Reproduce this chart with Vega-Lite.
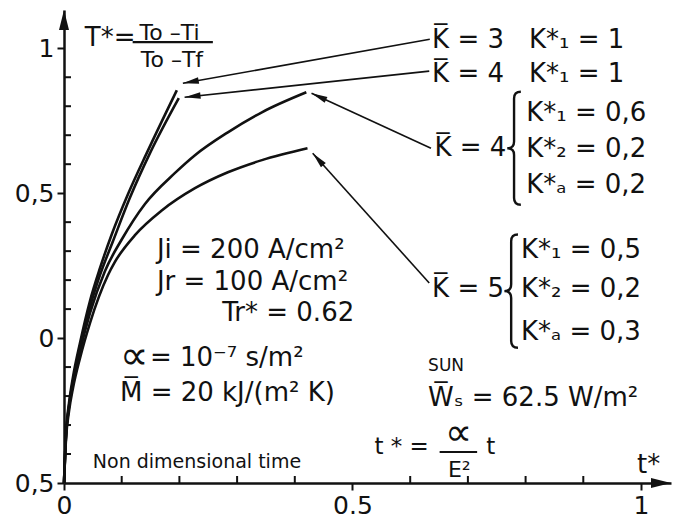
{
  "$schema": "https://vega.github.io/schema/vega-lite/v6.json",
  "width": 607,
  "height": 473,
  "autosize": {"type": "none"},
  "padding": {"left": 64, "top": 10, "right": 10, "bottom": 44},
  "background": "white",
  "config": {
    "view": {"stroke": null},
    "font": "DejaVu Sans",
    "text": {"font": "DejaVu Sans", "color": "#111"}
  },
  "resolve": {"axis": {"x": "independent", "y": "independent"}},
  "layer": [
    {
      "data": {
        "values": [
          {"curve": "K3", "t": 0, "T": -0.5},
          {"curve": "K3", "t": 0.0035, "T": -0.328},
          {"curve": "K3", "t": 0.0087, "T": -0.224},
          {"curve": "K3", "t": 0.0156, "T": -0.134},
          {"curve": "K3", "t": 0.0277, "T": -0.017},
          {"curve": "K3", "t": 0.045, "T": 0.128},
          {"curve": "K3", "t": 0.0623, "T": 0.241},
          {"curve": "K3", "t": 0.083, "T": 0.359},
          {"curve": "K3", "t": 0.111, "T": 0.497},
          {"curve": "K3", "t": 0.145, "T": 0.645},
          {"curve": "K3", "t": 0.1955, "T": 0.855},
          {"curve": "K4a", "t": 0, "T": -0.5},
          {"curve": "K4a", "t": 0.0035, "T": -0.338},
          {"curve": "K4a", "t": 0.0087, "T": -0.234},
          {"curve": "K4a", "t": 0.0156, "T": -0.148},
          {"curve": "K4a", "t": 0.0277, "T": -0.034},
          {"curve": "K4a", "t": 0.045, "T": 0.107},
          {"curve": "K4a", "t": 0.0623, "T": 0.217},
          {"curve": "K4a", "t": 0.0848, "T": 0.334},
          {"curve": "K4a", "t": 0.114, "T": 0.483},
          {"curve": "K4a", "t": 0.149, "T": 0.638},
          {"curve": "K4a", "t": 0.199, "T": 0.828},
          {"curve": "K4b", "t": 0, "T": -0.5},
          {"curve": "K4b", "t": 0.0035, "T": -0.338},
          {"curve": "K4b", "t": 0.0087, "T": -0.238},
          {"curve": "K4b", "t": 0.0156, "T": -0.155},
          {"curve": "K4b", "t": 0.0277, "T": -0.045},
          {"curve": "K4b", "t": 0.045, "T": 0.086},
          {"curve": "K4b", "t": 0.0709, "T": 0.231},
          {"curve": "K4b", "t": 0.1003, "T": 0.341},
          {"curve": "K4b", "t": 0.14, "T": 0.462},
          {"curve": "K4b", "t": 0.192, "T": 0.569},
          {"curve": "K4b", "t": 0.227, "T": 0.631},
          {"curve": "K4b", "t": 0.284, "T": 0.71},
          {"curve": "K4b", "t": 0.343, "T": 0.779},
          {"curve": "K4b", "t": 0.42, "T": 0.848},
          {"curve": "K5", "t": 0, "T": -0.5},
          {"curve": "K5", "t": 0.0035, "T": -0.348},
          {"curve": "K5", "t": 0.0087, "T": -0.252},
          {"curve": "K5", "t": 0.0156, "T": -0.172},
          {"curve": "K5", "t": 0.0277, "T": -0.069},
          {"curve": "K5", "t": 0.045, "T": 0.052},
          {"curve": "K5", "t": 0.0761, "T": 0.217},
          {"curve": "K5", "t": 0.088, "T": 0.262},
          {"curve": "K5", "t": 0.123, "T": 0.355},
          {"curve": "K5", "t": 0.17, "T": 0.441},
          {"curve": "K5", "t": 0.227, "T": 0.517},
          {"curve": "K5", "t": 0.284, "T": 0.572},
          {"curve": "K5", "t": 0.343, "T": 0.614},
          {"curve": "K5", "t": 0.422, "T": 0.655}
        ]
      },
      "mark": {"type": "line", "interpolate": "monotone", "color": "#111", "strokeWidth": 2.6},
      "encoding": {
        "x": {
          "field": "t", "type": "quantitative",
          "scale": {"domain": [0, 1.052], "nice": false, "zero": false},
          "axis": {
            "orient": "bottom", "title": null, "grid": false,
            "values": [0, 0.5, 1],
            "labelExpr": "datum.value == 0 ? '0' : datum.value == 0.5 ? '0.5' : '1'",
            "tickSize": 7, "tickWidth": 2, "tickColor": "#111",
            "domain": true, "domainColor": "#111", "domainWidth": 2.5,
            "labelFont": "DejaVu Sans", "labelFontSize": 25, "labelColor": "#111",
            "labelPadding": 3, "labelFlush": false, "labelOverlap": false, "labelBound": false
          }
        },
        "y": {
          "field": "T", "type": "quantitative",
          "scale": {"domain": [-0.5, 1.132], "nice": false, "zero": false},
          "axis": {
            "orient": "left", "title": null, "grid": false,
            "values": [-0.5, 0, 0.5, 1],
            "labelExpr": "datum.value == 1 ? '1' : datum.value == 0 ? '0' : '0,5'",
            "tickSize": 7, "tickWidth": 2, "tickColor": "#111",
            "domain": true, "domainColor": "#111", "domainWidth": 2.5,
            "labelFont": "DejaVu Sans", "labelFontSize": 25, "labelColor": "#111",
            "labelPadding": 3, "labelOverlap": false, "labelBound": false, "labelFlush": false
          }
        },
        "detail": {"field": "curve"}
      }
    },
    {
      "data": {
        "values": [
          {"t": 0.1}, {"t": 0.2}, {"t": 0.3}, {"t": 0.4},
          {"t": 0.6}, {"t": 0.7}, {"t": 0.8}, {"t": 0.9}
        ]
      },
      "mark": {"type": "rule", "color": "#111", "strokeWidth": 2, "y2Offset": -7},
      "encoding": {
        "x": {"field": "t", "type": "quantitative", "scale": {"domain": [0, 1.052], "nice": false, "zero": false}, "axis": null},
        "y": {"datum": -0.5, "type": "quantitative", "scale": {"domain": [-0.5, 1.132], "nice": false, "zero": false}, "axis": null},
        "y2": {"datum": -0.5}
      }
    },
    {
      "data": {
        "values": [
          {"T": -0.4}, {"T": -0.3}, {"T": -0.2}, {"T": -0.1},
          {"T": 0.1}, {"T": 0.2}, {"T": 0.3}, {"T": 0.4},
          {"T": 0.6}, {"T": 0.7}, {"T": 0.8}, {"T": 0.9}
        ]
      },
      "mark": {"type": "rule", "color": "#111", "strokeWidth": 2, "x2Offset": 7},
      "encoding": {
        "x": {"datum": 0, "type": "quantitative", "scale": {"domain": [0, 1.052], "nice": false, "zero": false}, "axis": null},
        "x2": {"datum": 0},
        "y": {"field": "T", "type": "quantitative", "scale": {"domain": [-0.5, 1.132], "nice": false, "zero": false}, "axis": null}
      }
    },
    {
      "data": {
        "values": [
          {"t": 0.119, "t2": 0.258, "T": 1.021},
          {"t": 0.651, "t2": 0.716, "T": -0.393}
        ]
      },
      "mark": {"type": "rule", "color": "#111", "strokeWidth": 2.2},
      "encoding": {
        "x": {"field": "t", "type": "quantitative", "scale": {"domain": [0, 1.052], "nice": false, "zero": false}, "axis": null},
        "x2": {"field": "t2"},
        "y": {"field": "T", "type": "quantitative", "scale": {"domain": [-0.5, 1.132], "nice": false, "zero": false}, "axis": null}
      }
    },
    {
      "data": {
        "values": [
          {"t0": 0.634, "T0": 1.031, "t1": 0.206, "T1": 0.879},
          {"t0": 0.633, "T0": 0.921, "t1": 0.209, "T1": 0.831},
          {"t0": 0.636, "T0": 0.655, "t1": 0.429, "T1": 0.845},
          {"t0": 0.633, "T0": 0.19, "t1": 0.431, "T1": 0.638}
        ]
      },
      "layer": [
        {
          "mark": {"type": "rule", "color": "#111", "strokeWidth": 1.6},
          "encoding": {
            "x": {"field": "t0", "type": "quantitative", "scale": {"domain": [0, 1.052], "nice": false, "zero": false}, "axis": null},
            "y": {"field": "T0", "type": "quantitative", "scale": {"domain": [-0.5, 1.132], "nice": false, "zero": false}, "axis": null},
            "x2": {"field": "t1"},
            "y2": {"field": "T1"}
          }
        },
        {
          "transform": [
            {"calculate": "atan2((datum.t1 - datum.t0) * 578, (datum.T1 - datum.T0) * 290) * 180 / PI", "as": "heading"}
          ],
          "mark": {"type": "point", "shape": "M0,0L0.45,2.2L-0.45,2.2Z", "filled": true, "color": "#111", "opacity": 1, "size": 211},
          "encoding": {
            "x": {"field": "t1", "type": "quantitative", "scale": {"domain": [0, 1.052], "nice": false, "zero": false}, "axis": null},
            "y": {"field": "T1", "type": "quantitative", "scale": {"domain": [-0.5, 1.132], "nice": false, "zero": false}, "axis": null},
            "angle": {"field": "heading", "type": "quantitative", "scale": null}
          }
        }
      ]
    },
    {
      "data": {"values": [{"t": 1.052, "T": -0.5}]},
      "mark": {"type": "point", "shape": "M0,0L0.5,2L-0.5,2Z", "filled": true, "color": "#111", "opacity": 1, "size": 400, "angle": 90, "clip": false},
      "encoding": {
        "x": {"field": "t", "type": "quantitative", "scale": {"domain": [0, 1.052], "nice": false, "zero": false}, "axis": null},
        "y": {"field": "T", "type": "quantitative", "scale": {"domain": [-0.5, 1.132], "nice": false, "zero": false}, "axis": null}
      }
    },
    {
      "data": {"values": [{"t": 0, "T": 1.132}]},
      "mark": {"type": "point", "shape": "M0,0L0.5,2L-0.5,2Z", "filled": true, "color": "#111", "opacity": 1, "size": 400, "angle": 0, "clip": false},
      "encoding": {
        "x": {"field": "t", "type": "quantitative", "scale": {"domain": [0, 1.052], "nice": false, "zero": false}, "axis": null},
        "y": {"field": "T", "type": "quantitative", "scale": {"domain": [-0.5, 1.132], "nice": false, "zero": false}, "axis": null}
      }
    },
    {
      "data": {
        "values": [
          {"group": "K4", "t": 0.78, "T": 0.655},
          {"group": "K5", "t": 0.775, "T": 0.162}
        ]
      },
      "mark": {
        "type": "point",
        "shape": "M0.12,-1Q0,-1 0,-0.88L0,-0.12Q0,0 -0.12,0Q0,0 0,0.12L0,0.88Q0,1 0.12,1",
        "filled": false, "color": "#111", "opacity": 1, "strokeWidth": 2.4, "size": 12800
      },
      "encoding": {
        "x": {"field": "t", "type": "quantitative", "scale": {"domain": [0, 1.052], "nice": false, "zero": false}, "axis": null},
        "y": {"field": "T", "type": "quantitative", "scale": {"domain": [-0.5, 1.132], "nice": false, "zero": false}, "axis": null}
      }
    },
    {
      "data": {
        "values": [
          {"label": "K̅ = 3", "t": 0.638, "T": 1.028},
          {"label": "K*₁ = 1", "t": 0.806, "T": 1.028},
          {"label": "K̅ = 4", "t": 0.638, "T": 0.91},
          {"label": "K*₁ = 1", "t": 0.806, "T": 0.91},
          {"label": "K̅ = 4", "t": 0.642, "T": 0.655},
          {"label": "K*₁ = 0,6", "t": 0.801, "T": 0.776},
          {"label": "K*₂ = 0,2", "t": 0.801, "T": 0.652},
          {"label": "K*ₐ = 0,2", "t": 0.801, "T": 0.528},
          {"label": "K̅ = 5", "t": 0.638, "T": 0.169},
          {"label": "K*₁ = 0,5", "t": 0.792, "T": 0.303},
          {"label": "K*₂ = 0,2", "t": 0.792, "T": 0.169},
          {"label": "K*ₐ = 0,3", "t": 0.792, "T": 0.021},
          {"label": "Ji = 200 A/cm²", "t": 0.161, "T": 0.303},
          {"label": "Jr = 100 A/cm²", "t": 0.161, "T": 0.193},
          {"label": "= 10⁻⁷ s/m²", "t": 0.149, "T": -0.069},
          {"label": "M̅ = 20 kJ/(m² K)", "t": 0.097, "T": -0.19},
          {"label": "W̅ₛ = 62.5 W/m²", "t": 0.631, "T": -0.207},
          {"label": "T*=", "t": 0.036, "T": 1.034},
          {"label": "t*", "t": 0.993, "T": -0.438}
        ]
      },
      "mark": {"type": "text", "align": "left", "baseline": "middle", "fontSize": 26, "color": "#111"},
      "encoding": {
        "x": {"field": "t", "type": "quantitative", "scale": {"domain": [0, 1.052], "nice": false, "zero": false}, "axis": null},
        "y": {"field": "T", "type": "quantitative", "scale": {"domain": [-0.5, 1.132], "nice": false, "zero": false}, "axis": null},
        "text": {"field": "label"}
      }
    },
    {
      "data": {"values": [{"label": "∝", "t": 0.097, "T": -0.064}]},
      "mark": {"type": "text", "align": "left", "baseline": "middle", "fontSize": 40, "color": "#111"},
      "encoding": {
        "x": {"field": "t", "type": "quantitative", "scale": {"domain": [0, 1.052], "nice": false, "zero": false}, "axis": null},
        "y": {"field": "T", "type": "quantitative", "scale": {"domain": [-0.5, 1.132], "nice": false, "zero": false}, "axis": null},
        "text": {"field": "label"}
      }
    },
    {
      "data": {"values": [{"label": "∝", "t": 0.684, "T": -0.332}]},
      "mark": {"type": "text", "align": "center", "baseline": "middle", "fontSize": 38, "color": "#111"},
      "encoding": {
        "x": {"field": "t", "type": "quantitative", "scale": {"domain": [0, 1.052], "nice": false, "zero": false}, "axis": null},
        "y": {"field": "T", "type": "quantitative", "scale": {"domain": [-0.5, 1.132], "nice": false, "zero": false}, "axis": null},
        "text": {"field": "label"}
      }
    },
    {
      "data": {"values": [{"label": "Tr* = 0.62", "t": 0.503, "T": 0.086}]},
      "mark": {"type": "text", "align": "right", "baseline": "middle", "fontSize": 26, "color": "#111"},
      "encoding": {
        "x": {"field": "t", "type": "quantitative", "scale": {"domain": [0, 1.052], "nice": false, "zero": false}, "axis": null},
        "y": {"field": "T", "type": "quantitative", "scale": {"domain": [-0.5, 1.132], "nice": false, "zero": false}, "axis": null},
        "text": {"field": "label"}
      }
    },
    {
      "data": {
        "values": [
          {"label": "To –Ti", "t": 0.183, "T": 1.052},
          {"label": "To –Tf", "t": 0.187, "T": 0.959},
          {"label": "E²", "t": 0.685, "T": -0.455}
        ]
      },
      "mark": {"type": "text", "align": "center", "baseline": "middle", "fontSize": 22, "color": "#111"},
      "encoding": {
        "x": {"field": "t", "type": "quantitative", "scale": {"domain": [0, 1.052], "nice": false, "zero": false}, "axis": null},
        "y": {"field": "T", "type": "quantitative", "scale": {"domain": [-0.5, 1.132], "nice": false, "zero": false}, "axis": null},
        "text": {"field": "label"}
      }
    },
    {
      "data": {
        "values": [
          {"label": "t * =", "t": 0.538, "T": -0.376},
          {"label": "t", "t": 0.732, "T": -0.376}
        ]
      },
      "mark": {"type": "text", "align": "left", "baseline": "middle", "fontSize": 23, "color": "#111"},
      "encoding": {
        "x": {"field": "t", "type": "quantitative", "scale": {"domain": [0, 1.052], "nice": false, "zero": false}, "axis": null},
        "y": {"field": "T", "type": "quantitative", "scale": {"domain": [-0.5, 1.132], "nice": false, "zero": false}, "axis": null},
        "text": {"field": "label"}
      }
    },
    {
      "data": {"values": [{"label": "Non dimensional time", "t": 0.05, "T": -0.428}]},
      "mark": {"type": "text", "align": "left", "baseline": "middle", "fontSize": 19, "color": "#111"},
      "encoding": {
        "x": {"field": "t", "type": "quantitative", "scale": {"domain": [0, 1.052], "nice": false, "zero": false}, "axis": null},
        "y": {"field": "T", "type": "quantitative", "scale": {"domain": [-0.5, 1.132], "nice": false, "zero": false}, "axis": null},
        "text": {"field": "label"}
      }
    },
    {
      "data": {"values": [{"label": "SUN", "t": 0.631, "T": -0.095}]},
      "mark": {"type": "text", "align": "left", "baseline": "middle", "fontSize": 17, "color": "#111"},
      "encoding": {
        "x": {"field": "t", "type": "quantitative", "scale": {"domain": [0, 1.052], "nice": false, "zero": false}, "axis": null},
        "y": {"field": "T", "type": "quantitative", "scale": {"domain": [-0.5, 1.132], "nice": false, "zero": false}, "axis": null},
        "text": {"field": "label"}
      }
    }
  ]
}
